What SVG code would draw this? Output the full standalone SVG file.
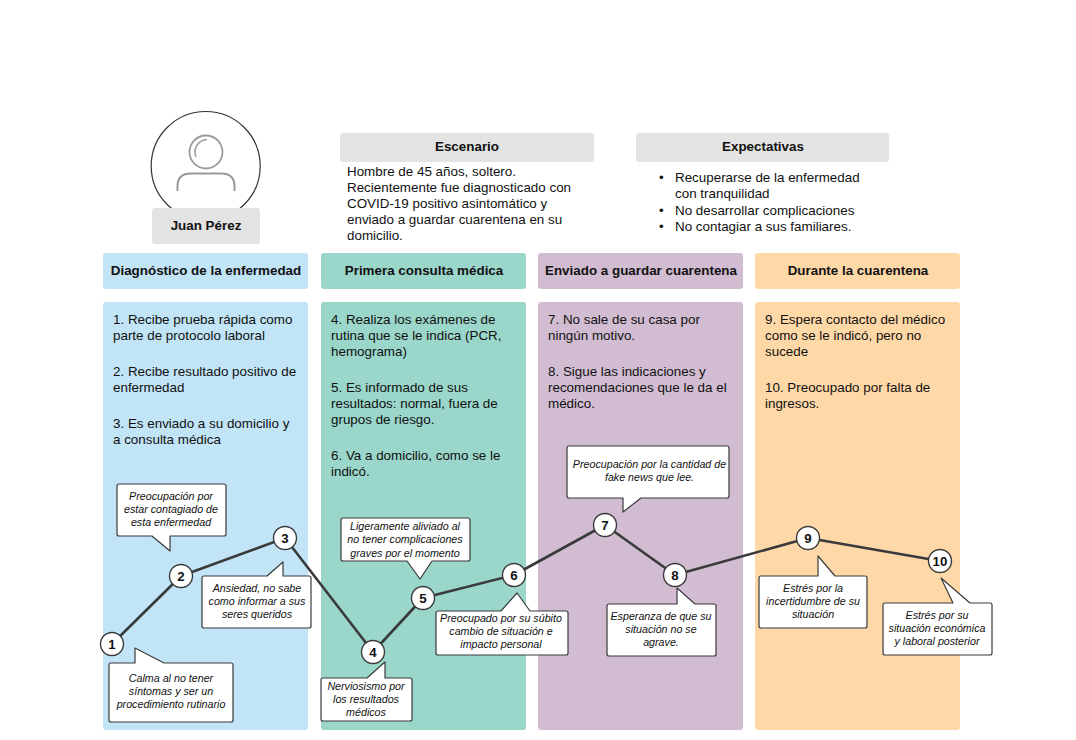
<svg xmlns="http://www.w3.org/2000/svg" width="1076" height="740" viewBox="0 0 1076 740">
<style>
text{font-family:"Liberation Sans",Arial,sans-serif;fill:#111}
.h{font-size:13.4px;font-weight:bold;text-anchor:middle}
.b{font-size:13.4px}
.i{font-size:10.7px;font-style:italic;text-anchor:middle}
.n{font-size:13.3px;font-weight:bold;text-anchor:middle}
.g{fill:#e3e3e3}
.c1{fill:#c1e4f7}.c2{fill:#9ad6ca}.c3{fill:#d1bcd2}.c4{fill:#ffd8a8}
.bub{fill:#fff;stroke:#3a3a3a;stroke-width:1.2;stroke-linejoin:round}
.dot{fill:#fff;stroke:#3a3a3a;stroke-width:1.4}
.ln{fill:none;stroke:#3a3a3a;stroke-width:2.6;stroke-linejoin:round}
</style>
<g id="persona">
<circle cx="205.7" cy="166" r="54.5" fill="#fff" stroke="#333" stroke-width="1.2"/>
<circle cx="206" cy="152" r="16.5" fill="none" stroke="#9a9a9a" stroke-width="1.8"/>
<path d="M196 157A12.5 12.5 0 0 1 207 139.5" fill="none" stroke="#9a9a9a" stroke-width="1.5"/>
<path d="M177.500 191V186Q177.500 173.500 191 173.500H221Q234.500 173.500 234.500 186V191" fill="none" stroke="#9a9a9a" stroke-width="2"/>
<rect class="g" x="152" y="208" width="108" height="36" rx="3"/>
<text class="h" x="206" y="229.500">Juan Pérez</text>
</g>
<g id="escenario">
<rect class="g" x="340" y="133" width="254" height="29" rx="3"/>
<text class="h" x="467" y="151">Escenario</text>
<text class="b"><tspan x="347" y="176">Hombre de 45 años, soltero.</tspan><tspan x="347" y="192">Recientemente fue diagnosticado con</tspan><tspan x="347" y="208">COVID-19 positivo asintomático y</tspan><tspan x="347" y="224">enviado a guardar cuarentena en su</tspan><tspan x="347" y="240">domicilio.</tspan></text>
</g>
<g id="expectativas">
<rect class="g" x="636" y="133" width="253" height="29" rx="3"/>
<text class="h" x="763" y="151">Expectativas</text>
<text class="b"><tspan x="659" y="182">•</tspan><tspan x="675" y="182">Recuperarse de la enfermedad</tspan><tspan x="675" y="198">con tranquilidad</tspan><tspan x="659" y="215">•</tspan><tspan x="675" y="215">No desarrollar complicaciones</tspan><tspan x="659" y="231">•</tspan><tspan x="675" y="231">No contagiar a sus familiares.</tspan></text>
</g>
<g id="fase1">
<rect class="c1" x="103" y="253" width="205" height="36" rx="3"/>
<text class="h" x="206" y="274.500">Diagnóstico de la enfermedad</text>
<rect class="c1" x="103" y="302" width="205" height="428" rx="3"/>
<text class="b"><tspan x="113" y="324">1. Recibe prueba rápida como</tspan><tspan x="113" y="340">parte de protocolo laboral</tspan><tspan x="113" y="376">2. Recibe resultado positivo de</tspan><tspan x="113" y="392">enfermedad</tspan><tspan x="113" y="428">3. Es enviado a su domicilio y</tspan><tspan x="113" y="444">a consulta médica</tspan></text>
</g>
<g id="fase2">
<rect class="c2" x="321" y="253" width="205" height="36" rx="3"/>
<text class="h" x="424" y="274.500">Primera consulta médica</text>
<rect class="c2" x="321" y="302" width="205" height="428" rx="3"/>
<text class="b"><tspan x="331" y="324">4. Realiza los exámenes de</tspan><tspan x="331" y="340">rutina que se le indica (PCR,</tspan><tspan x="331" y="356">hemograma)</tspan><tspan x="331" y="392">5. Es informado de sus</tspan><tspan x="331" y="408">resultados: normal, fuera de</tspan><tspan x="331" y="424">grupos de riesgo.</tspan><tspan x="331" y="460">6. Va a domicilio, como se le</tspan><tspan x="331" y="476">indicó.</tspan></text>
</g>
<g id="fase3">
<rect class="c3" x="538" y="253" width="205" height="36" rx="3"/>
<text class="h" x="641" y="274.500">Enviado a guardar cuarentena</text>
<rect class="c3" x="538" y="302" width="205" height="428" rx="3"/>
<text class="b"><tspan x="548" y="324">7. No sale de su casa por</tspan><tspan x="548" y="340">ningún motivo.</tspan><tspan x="548" y="376">8. Sigue las indicaciones y</tspan><tspan x="548" y="392">recomendaciones que le da el</tspan><tspan x="548" y="408">médico.</tspan></text>
</g>
<g id="fase4">
<rect class="c4" x="755" y="253" width="205" height="36" rx="3"/>
<text class="h" x="858" y="274.500">Durante la cuarentena</text>
<rect class="c4" x="755" y="302" width="205" height="428" rx="3"/>
<text class="b"><tspan x="765" y="324">9. Espera contacto del médico</tspan><tspan x="765" y="340">como se le indicó, pero no</tspan><tspan x="765" y="356">sucede</tspan><tspan x="765" y="392">10. Preocupado por falta de</tspan><tspan x="765" y="408">ingresos.</tspan></text>
</g>
<g id="connectors">
<polyline class="ln" points="112,644 181,576 285,538 373,652 423,598 514,575 605,525 675,575 808,538 940,561"/>
</g>
<g id="b1"><path class="bub" d="M111 663H135V648L164 663H231Q233 663 233 665V720Q233 722 231 722H111Q109 722 109 720V665Q109 663 111 663Z"/><text class="i"><tspan x="171" y="682">Calma al no tener</tspan><tspan x="171" y="695">síntomas y ser un</tspan><tspan x="171" y="708">procedimiento rutinario</tspan></text></g>
<g id="b2"><path class="bub" d="M119 484H224Q226 484 226 486V534Q226 536 224 536H170V551L152 536H119Q117 536 117 534V486Q117 484 119 484Z"/><text class="i"><tspan x="171" y="500">Preocupación por</tspan><tspan x="171" y="513">estar contagiado de</tspan><tspan x="171" y="526">esta enfermedad</tspan></text></g>
<g id="b3"><path class="bub" d="M204 576H267L283 562V576H309Q311 576 311 578V626Q311 628 309 628H204Q202 628 202 626V578Q202 576 204 576Z"/><text class="i"><tspan x="257" y="592">Ansiedad, no sabe</tspan><tspan x="257" y="605">como informar a sus</tspan><tspan x="257" y="618">seres queridos</tspan></text></g>
<g id="b4"><path class="bub" d="M323 678H367L385 662V678H410Q412 678 412 680V719Q412 721 410 721H323Q321 721 321 719V680Q321 678 323 678Z"/><text class="i"><tspan x="366" y="690">Nerviosismo por</tspan><tspan x="366" y="703">los resultados</tspan><tspan x="366" y="716">médicos</tspan></text></g>
<g id="b5"><path class="bub" d="M343 518H468Q470 518 470 520V559Q470 561 468 561H432L420 579L407 561H343Q341 561 341 559V520Q341 518 343 518Z"/><text class="i"><tspan x="405" y="530">Ligeramente aliviado al</tspan><tspan x="405" y="543">no tener complicaciones</tspan><tspan x="405" y="557">graves por el momento</tspan></text></g>
<g id="b6"><path class="bub" d="M438 611H501L517 593L530 611H566Q568 611 568 613V653Q568 655 566 655H438Q436 655 436 653V613Q436 611 438 611Z"/><text class="i"><tspan x="501" y="622">Preocupado por su súbito</tspan><tspan x="501" y="635">cambio de situación e</tspan><tspan x="501" y="648">impacto personal</tspan></text></g>
<g id="b7"><path class="bub" d="M569 446H727Q729 446 729 448V496Q729 498 727 498H641L623 512V498H569Q567 498 567 496V448Q567 446 569 446Z"/><text class="i"><tspan x="649.500" y="468">Preocupación por la cantidad de</tspan><tspan x="649.500" y="481">fake news que lee.</tspan></text></g>
<g id="b8"><path class="bub" d="M609 604H677V588L695 604H714Q716 604 716 606V654Q716 656 714 656H609Q607 656 607 654V606Q607 604 609 604Z"/><text class="i"><tspan x="661" y="620">Esperanza de que su</tspan><tspan x="661" y="633">situación no se</tspan><tspan x="661" y="646">agrave.</tspan></text></g>
<g id="b9"><path class="bub" d="M761 576H818V556L835 576H865Q867 576 867 578V626Q867 628 865 628H761Q759 628 759 626V578Q759 576 761 576Z"/><text class="i"><tspan x="813" y="592">Estrés por la</tspan><tspan x="813" y="605">incertidumbre de su</tspan><tspan x="813" y="618">situación</tspan></text></g>
<g id="b10"><path class="bub" d="M885 603H953L941 578L970 603H990Q992 603 992 605V653Q992 655 990 655H885Q883 655 883 653V605Q883 603 885 603Z"/><text class="i"><tspan x="937" y="619">Estrés por su</tspan><tspan x="937" y="632">situación económica</tspan><tspan x="937" y="645">y laboral posterior</tspan></text></g>
<g id="n1"><circle class="dot" cx="112" cy="644" r="11.500"/><text class="n" x="112" y="649">1</text></g>
<g id="n2"><circle class="dot" cx="181" cy="576" r="11.500"/><text class="n" x="181" y="581">2</text></g>
<g id="n3"><circle class="dot" cx="285" cy="538" r="11.500"/><text class="n" x="285" y="543">3</text></g>
<g id="n4"><circle class="dot" cx="373" cy="652" r="11.500"/><text class="n" x="373" y="657">4</text></g>
<g id="n5"><circle class="dot" cx="423" cy="598" r="11.500"/><text class="n" x="423" y="603">5</text></g>
<g id="n6"><circle class="dot" cx="514" cy="575" r="11.500"/><text class="n" x="514" y="580">6</text></g>
<g id="n7"><circle class="dot" cx="605" cy="525" r="11.500"/><text class="n" x="605" y="530">7</text></g>
<g id="n8"><circle class="dot" cx="675" cy="575" r="11.500"/><text class="n" x="675" y="580">8</text></g>
<g id="n9"><circle class="dot" cx="808" cy="538" r="11.500"/><text class="n" x="808" y="543">9</text></g>
<g id="n10"><circle class="dot" cx="940" cy="561" r="11.500"/><text class="n" x="940" y="566">10</text></g>
</svg>
